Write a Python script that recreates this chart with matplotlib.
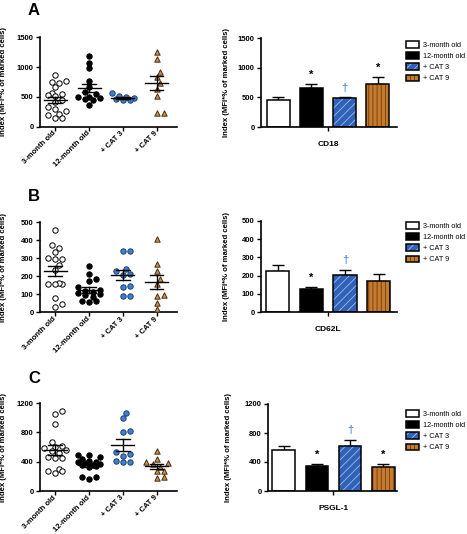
import numpy as np
import matplotlib.pyplot as plt

plt.rcParams['font.family'] = ['Liberation Sans', 'DejaVu Sans']
plt.rcParams['hatch.linewidth'] = 0.6

groups = ['3-month old', '12-month old', '+ CAT 3', '+ CAT 9']

# A - CD18
cd18_3m = [860, 760, 750, 740, 660, 560, 550, 540, 510, 450, 410, 330, 300, 270, 220, 200, 150, 140]
cd18_12m = [1190, 1075, 980, 770, 660, 580, 550, 500, 490, 480, 470, 450, 360]
cd18_cat3 = [560, 520, 490, 480, 470, 450, 440]
cd18_cat9 = [1260, 1130, 920, 840, 730, 640, 515, 235, 235]
cd18_mean = [450, 655, 485, 730]
cd18_sem = [55, 65, 15, 120]
cd18_marks = ['', '*', '†', '*']

# B - CD62L
cd62l_3m = [460, 360, 375, 335, 300, 295, 295, 265, 235, 160, 160, 165, 155, 80, 30, 45]
cd62l_12m = [255, 213, 185, 175, 140, 125, 120, 115, 110, 100, 95, 85, 65, 63, 60]
cd62l_cat3 = [342, 340, 240, 230, 215, 210, 148, 140, 93, 93]
cd62l_cat9 = [407, 267, 231, 183, 157, 96, 93, 50, 17]
cd62l_mean = [228, 125, 205, 170]
cd62l_sem = [28, 15, 28, 40]
cd62l_marks = ['', '*', '†', '']

# C - PSGL-1
psgl_3m = [1090, 1050, 910, 670, 620, 600, 580, 560, 540, 520, 450, 450, 460, 300, 270, 270, 250]
psgl_12m = [490, 490, 460, 430, 410, 400, 390, 380, 370, 360, 350, 340, 330, 190, 170, 190]
psgl_cat3 = [1065, 1000, 820, 800, 530, 500, 480, 410, 400, 400]
psgl_cat9 = [540, 440, 400, 370, 380, 330, 270, 270, 180, 190]
psgl_mean = [560, 350, 625, 335]
psgl_sem = [65, 25, 85, 40]
psgl_marks = ['', '*', '†', '*']

W, H = 467, 534
fig = plt.figure(figsize=(W / 100, H / 100), dpi=100)

bar_face = ['white', 'black', '#2f62b8', '#c57a2c']
hatch_col = ['white', 'black', '#9dbbec', '#6e3e10']
hatches = [None, None, '////', '||||']
dot_face = ['white', 'black', '#3f7fcc', '#c9904f']
dot_edge = ['black', 'black', '#1d3f73', '#4a2d10']
dot_mark = ['o', 'o', 'o', '^']


def make_ax(l, t, r, b):
    return fig.add_axes([l / W, 1 - b / H, (r - l) / W, (b - t) / H])


def style(ax):
    for s in ['top', 'right']:
        ax.spines[s].set_visible(False)
    for s in ['left', 'bottom']:
        ax.spines[s].set_linewidth(1.2)
    ax.tick_params(direction='out', length=3, width=1, labelsize=5.5, pad=1.5)
    for lab in ax.get_yticklabels():
        lab.set_fontweight('bold')


def swarm_x(ax, x0, vals, d=5.6, step=3.6):
    # simple beeswarm: put each point in the nearest free slot around the category
    vals = np.asarray(vals, float)
    xy = ax.transData.transform(np.column_stack([np.full(len(vals), x0), vals]))
    xs = np.zeros(len(vals))
    placed = []
    for i in np.argsort(vals):
        px, py = xy[i]
        best, best_gap = px, -1
        for k in [0, 1, -1, 2, -2, 3, -3]:
            cx = px + k * step
            gap = min([np.hypot(cx - qx, py - qy) for qx, qy in placed] + [99])
            if gap >= d:
                best = cx
                break
            if gap > best_gap:
                best, best_gap = cx, gap
        placed.append((best, py))
        xs[i] = best
    return ax.transData.inverted().transform(np.column_stack([xs, xy[:, 1]]))[:, 0]


def scatter_panel(ax, data, means, sems, ymax, yticks, ylab_x):
    ax.set_xlim(-0.45, 3.6)
    ax.set_ylim(0, ymax)
    for i, vals in enumerate(data):
        xs = swarm_x(ax, i, vals)
        ax.scatter(xs, vals, s=15, marker=dot_mark[i], facecolor=dot_face[i],
                   edgecolor=dot_edge[i], linewidth=0.7, zorder=3, clip_on=False)
        m, e = means[i], sems[i]
        ax.plot([i - 0.34, i + 0.34], [m, m], color='black', lw=1, zorder=4)
        ax.plot([i - 0.2, i + 0.2], [m - e, m - e], color='black', lw=1, zorder=4)
        ax.plot([i - 0.2, i + 0.2], [m + e, m + e], color='black', lw=1, zorder=4)
        ax.plot([i, i], [m - e, m + e], color='black', lw=1, zorder=4)
    ax.set_yticks(yticks)
    ax.set_xticks(range(4))
    ax.set_xticklabels(groups, rotation=45, ha='right', va='center', rotation_mode='anchor',
                       fontweight='bold', fontsize=4.5)
    style(ax)
    ax.tick_params(axis='x', pad=1)
    ax.set_ylabel('Index (MFI*% of marked cells)', fontsize=5.6, fontweight='bold')
    ax.yaxis.set_label_coords(ylab_x, 0.5)


def bar_panel(ax, means, sems, marks, name, ymax, yticks, xlim, ylab_x, leg_xy):
    x = np.arange(4)
    ax.set_xlim(*xlim)
    ax.set_ylim(0, ymax)
    handles = []
    for i in range(4):
        b1 = ax.bar(x[i], means[i], 0.69, color=bar_face[i], edgecolor=hatch_col[i],
                    hatch=hatches[i], linewidth=0, zorder=2)
        b2 = ax.bar(x[i], means[i], 0.69, fill=False, edgecolor='black', linewidth=1.1, zorder=3)
        handles.append((b1[0], b2[0]))
    ax.errorbar(x, means, yerr=[np.zeros(4), sems], fmt='none', ecolor='black',
                elinewidth=1, capsize=4, capthick=1, zorder=1)
    for i in range(4):
        if marks[i]:
            col = '#5b95dc' if marks[i] == '†' else 'black'
            ax.annotate(marks[i], xy=(x[i], means[i] + sems[i]), xytext=(0, 3),
                        textcoords='offset points', ha='center', va='bottom',
                        fontsize=8, color=col, fontweight='bold')
    ax.set_yticks(yticks)
    ax.set_xticks([1.5])
    ax.set_xticklabels([name], fontweight='bold', fontsize=6)
    style(ax)
    ax.tick_params(axis='x', pad=7, labelsize=6)
    ax.set_ylabel('Index (MFI*% of marked cells)', fontsize=5.6, fontweight='bold')
    ax.yaxis.set_label_coords(ylab_x, 0.5)
    ax.legend(handles, groups, loc='upper left',
              bbox_to_anchor=(leg_xy[0] / W, 1 - leg_xy[1] / H),
              bbox_transform=fig.transFigure, frameon=False, fontsize=5.2,
              handlelength=1.8, handleheight=1.1, labelspacing=0.45,
              handletextpad=0.5, borderpad=0, borderaxespad=0)


# A
ax = make_ax(40, 37.3, 177, 126.7)
scatter_panel(ax, [cd18_3m, cd18_12m, cd18_cat3, cd18_cat9], cd18_mean, cd18_sem,
              1500, [0, 500, 1000, 1500], -0.24)
ax = make_ax(261, 38, 397, 127)
bar_panel(ax, cd18_mean, cd18_sem, cd18_marks, 'CD18', 1500, [0, 500, 1000, 1500],
          (-0.52, 3.58), -0.23, (406, 41))

# B
ax = make_ax(40, 222.3, 177, 312.3)
scatter_panel(ax, [cd62l_3m, cd62l_12m, cd62l_cat3, cd62l_cat9], cd62l_mean, cd62l_sem,
              500, [0, 100, 200, 300, 400, 500], -0.24)
ax = make_ax(261, 220.7, 397, 312.3)
bar_panel(ax, cd62l_mean, cd62l_sem, cd62l_marks, 'CD62L', 500, [0, 100, 200, 300, 400, 500],
          (-0.5, 3.55), -0.23, (406, 222))

# C
ax = make_ax(40, 403, 177, 491)
scatter_panel(ax, [psgl_3m, psgl_12m, psgl_cat3, psgl_cat9], psgl_mean, psgl_sem,
              1200, [0, 400, 800, 1200], -0.24)
ax = make_ax(268, 404, 397, 491)
bar_panel(ax, psgl_mean, psgl_sem, psgl_marks, 'PSGL-1', 1200, [0, 400, 800, 1200],
          (-0.48, 3.42), -0.28, (406, 410))

for letter, y in [('A', 15), ('B', 201), ('C', 383)]:
    fig.text(28 / W, 1 - y / H, letter, fontsize=12, fontweight='bold', va='baseline')

fig.savefig('out.png', dpi=100)
